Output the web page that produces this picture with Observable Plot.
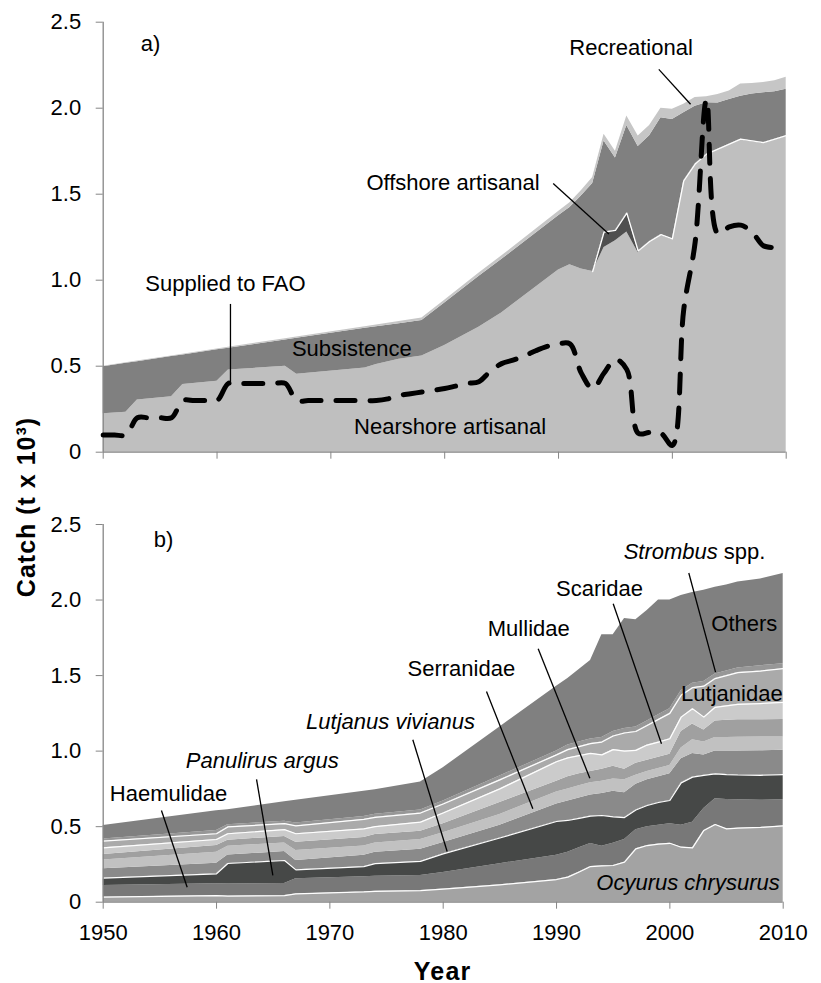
<!DOCTYPE html>
<html><head><meta charset="utf-8">
<script src="https://cdn.jsdelivr.net/npm/d3@7"></script>
<script src="https://cdn.jsdelivr.net/npm/@observablehq/plot@0.6"></script>
<style>
html,body{margin:0;padding:0;background:#fff;}
#wrap{position:relative;width:821px;height:983px;font-family:'Liberation Sans',Arial,sans-serif;color:#000;}
#pa{position:absolute;left:0;top:0;}
#pb{position:absolute;left:0;top:490px;}
.ylab{position:absolute;left:26px;top:507px;transform:translate(-50%,-50%) rotate(-90deg);font-weight:bold;font-size:25px;letter-spacing:1px;white-space:nowrap;}
.xlab{position:absolute;left:442.7px;top:970.7px;transform:translate(-50%,-50%);font-weight:bold;font-size:25px;letter-spacing:1.2px;white-space:nowrap;}
</style>
</head><body>
<div id="wrap">
  <div id="pa"></div>
  <div id="pb"></div>
  <div class="ylab">Catch (t x 10³)</div>
  <div class="xlab">Year</div>
</div>
<script>
// ---------- Panel a data ----------
const yearsA = [1950,1952,1953,1956,1957,1960,1961,1966,1967,1973,1974,1976,1978,1980,1983,1985,
  1990,1991,1992,1993,1994,1995,1996,1997,1998,1999,2000,2001,2002,2003,2004,2005,2006,2007,2008,2009,2010];
const nearshore = [.223,.232,.304,.322,.393,.412,.478,.499,.453,.49,.51,.54,.56,.62,.726,.81,
  1.06,1.09,1.065,1.05,1.19,1.23,1.28,1.16,1.22,1.26,1.235,1.573,1.67,1.728,1.757,1.786,1.815,1.805,1.795,1.815,1.835];
const offshore = [0,0,0,0,0,0,0,0,0,0,0,0,0,0,0,0,
  0,0,0,0,.09,.06,.11,.01,.005,.005,.005,.005,.005,.005,.005,.005,.005,.005,.005,.005,.005];
const subsistence = [.274,.285,.222,.234,.172,.183,.126,.154,.21,.23,.219,.207,.205,.248,.296,.31,
  .315,.332,.425,.512,.529,.42,.51,.608,.615,.68,.694,.395,.337,.298,.268,.259,.25,.273,.29,.275,.27];
const recreational = [.003,.003,.004,.004,.005,.005,.006,.007,.007,.01,.011,.013,.015,.016,.018,.02,
  .025,.028,.03,.035,.04,.04,.055,.06,.06,.055,.06,.05,.05,.035,.05,.05,.07,.06,.06,.065,.07];
const faoYears = d3.range(1950, 2010);
const faoValues = [.1,.1,.1,.2,.2,.2,.2,.3,.3,.3,
  .3,.4,.4,.4,.4,.4,.4,.3,.3,.3,
  .3,.3,.3,.3,.3,.31,.33,.34,.35,.36,
  .37,.385,.4,.41,.47,.515,.535,.56,.59,.615,
  .63,.63,.46,.37,.46,.54,.48,.11,.115,.11,
  .04,.83,1.22,2.05,1.27,1.31,1.32,1.28,1.2,1.19];
const namesA = ["Nearshore artisanal","Offshore artisanal","Subsistence","Recreational"];

// ---------- Panel b data ----------
const yearsB = [1950,1960,1961,1966,1967,1973,1974,1978,1980,1985,
  1990,1991,1992,1993,1994,1995,1996,1997,1998,1999,2000,2001,2002,2003,2004,2005,2006,2008,2010];
const ocyurus = [.033,.044,.040,.044,.055,.068,.072,.077,.087,.115,
  .150,.166,.200,.236,.240,.243,.265,.353,.375,.385,.390,.364,.360,.475,.514,.485,.490,.495,.505];
const haemulidae = [.077,.078,.080,.080,.100,.100,.100,.100,.110,.140,
  .160,.165,.160,.153,.131,.147,.150,.127,.125,.125,.129,.146,.170,.145,.170,.195,.188,.180,.173];
const panulirus = [.049,.066,.136,.152,.059,.067,.083,.093,.123,.170,
  .224,.210,.195,.181,.203,.175,.145,.130,.140,.150,.154,.280,.298,.220,.166,.165,.164,.165,.167];
const lvivianus = [.062,.070,.056,.059,.062,.075,.075,.080,.075,.085,
  .116,.129,.135,.140,.146,.170,.165,.170,.170,.170,.177,.160,.157,.135,.150,.155,.158,.162,.160];
const serranidae = [.059,.073,.058,.057,.066,.062,.062,.065,.065,.070,
  .080,.080,.080,.080,.080,.080,.085,.060,.055,.055,.055,.070,.090,.085,.090,.090,.092,.092,.088];
const mullidae = [.036,.044,.040,.043,.055,.056,.056,.055,.060,.080,
  .070,.080,.080,.075,.080,.085,.070,.080,.075,.075,.075,.110,.105,.080,.110,.115,.115,.114,.117];
const scaridae = [.044,.040,.043,.045,.056,.057,.052,.060,.070,.090,
  .130,.125,.120,.120,.095,.110,.120,.085,.100,.100,.102,.095,.100,.085,.090,.095,.103,.107,.112];
const lutjanidae = [.044,.038,.045,.040,.052,.063,.062,.060,.060,.060,
  .045,.055,.060,.065,.085,.090,.120,.125,.130,.150,.168,.145,.140,.205,.190,.200,.210,.215,.224];
const strombus = [.015,.022,.015,.016,.020,.020,.020,.020,.020,.025,
  .025,.030,.030,.030,.030,.030,.030,.030,.030,.030,.030,.030,.030,.030,.030,.030,.030,.035,.033];
const others = [.089,.130,.099,.129,.150,.167,.163,.185,.220,.325,
  .430,.440,.480,.520,.680,.640,.727,.710,.730,.760,.720,.630,.600,.605,.575,.570,.570,.575,.596];
const namesB = ["Ocyurus chrysurus","Haemulidae","Panulirus argus","Lutjanus vivianus","Serranidae",
  "Mullidae","Scaridae","Lutjanidae","Strombus spp.","Others"];

// ---------- Axis ticks ----------
const xTicks = [1950,1960,1970,1980,1990,2000,2010];
const yTicks = [0,0.5,1,1.5,2,2.5];
</script>
<script>
const yFmt = d => d === 0 ? "0" : d.toFixed(1);
function rowsFrom(years, names, arrays) {
  const rows = [];
  names.forEach((name, k) => arrays[k].forEach((v, i) => rows.push({year: years[i], series: name, value: v})));
  return rows;
}
function cumulative(years, arrays, k) {
  return years.map((year, i) => ({year, top: d3.sum(arrays.slice(0, k + 1), a => a[i])}));
}
const FONT = "'Liberation Sans', Arial, sans-serif";
const baseStyle = {fontFamily: FONT, fontSize: "22px", color: "#000", background: "transparent", overflow: "visible"};

// ---------- Panel a ----------
const arraysA = [nearshore, offshore, subsistence, recreational];
const colorsA = ["#bfbfbf", "#4f4f4f", "#808080", "#c6c6c6"];
const rowsA = rowsFrom(yearsA, namesA, arraysA);
const offTop = cumulative(yearsA, arraysA, 1).filter(d => d.year >= 1993);
const fao = faoYears.map((year, i) => ({year, value: faoValues[i]}));

const labelsA = [
  {text: "Recreational", x: 1996.37, y: 2.35},
  {text: "Offshore artisanal", x: 1980.73, y: 1.566},
  {text: "Supplied to FAO", x: 1960.74, y: 0.98},
  {text: "Subsistence", x: 1971.84, y: 0.60},
  {text: "Nearshore artisanal", x: 1980.47, y: 0.145}
];
const linksA = [
  {x1: 1998.81, y1: 2.226, x2: 2001.6, y2: 2.023},
  {x1: 1989.53, y1: 1.562, x2: 1994.42, y2: 1.268},
  {x1: 1961.18, y1: 0.862, x2: 1961.18, y2: 0.397}
];

const plotA = Plot.plot({
  width: 821, height: 470,
  marginLeft: 102.7, marginRight: 35.3, marginTop: 21.7, marginBottom: 18.3,
  style: baseStyle,
  x: {domain: [1950, 2010]},
  y: {domain: [0, 2.5]},
  color: {domain: namesA, range: colorsA},
  marks: [
    Plot.areaY(rowsA, {x: "year", y: "value", z: "series", fill: "series", order: namesA}),
    Plot.line(offTop, {x: "year", y: "top", stroke: "#fff", strokeWidth: 1.3}),
    Plot.ruleY([0], {stroke: "#868686", strokeWidth: 1.3}),
    Plot.ruleX([1950], {stroke: "#868686", strokeWidth: 1.3}),
    Plot.line(fao, {x: "year", y: "value", curve: "catmull-rom", stroke: "#000", strokeWidth: 5,
      strokeDasharray: "19,15", strokeLinecap: "round", strokeLinejoin: "round"}),
    Plot.link(linksA, {x1: "x1", y1: "y1", x2: "x2", y2: "y2", stroke: "#000", strokeWidth: 1.3}),
    Plot.text(labelsA, {x: "x", y: "y", text: "text", fill: "#000"}),
    Plot.text(["a)"], {x: 1953.3, y: 2.373, text: d => d, textAnchor: "start", fill: "#000"}),
    Plot.axisY({ticks: yTicks, tickFormat: yFmt, tickSize: 7, tickPadding: 15, stroke: "#868686", label: null}),
    Plot.axisX({ticks: xTicks, tickFormat: () => "", tickSize: 7, stroke: "#868686", label: null})
  ]
});
document.getElementById("pa").appendChild(plotA);

// ---------- Panel b ----------
const arraysB = [ocyurus, haemulidae, panulirus, lvivianus, serranidae, mullidae, scaridae, lutjanidae, strombus, others];
const colorsB = ["#a3a3a3", "#787878", "#464847", "#8a8a8a", "#c1c1c1", "#a0a0a0", "#cbcbcb", "#aaaaaa", "#979797", "#808080"];
const rowsB = rowsFrom(yearsB, namesB, arraysB);
const whiteB = [0, 2, 6, 7].flatMap(k => cumulative(yearsB, arraysB, k).map(d => ({...d, layer: k})));

const labelsB = [
  {text: "Scaridae", x: 1993.79, y: 2.075},
  {text: "Mullidae", x: 1987.55, y: 1.811},
  {text: "Serranidae", x: 1981.6, y: 1.546},
  {text: "Haemulidae", x: 1955.76, y: 0.718},
  {text: "Others", x: 2006.57, y: 1.839},
  {text: "Lutjanidae", x: 2005.47, y: 1.38}
];
const italicB = [
  {text: "Lutjanus vivianus", x: 1975.35, y: 1.192},
  {text: "Panulirus argus", x: 1964.03, y: 0.938},
  {text: "Ocyurus chrysurus", x: 2001.6, y: 0.128}
];
const linksB = [
  {x1: 2001.67, y1: 2.179, x2: 2004.03, y2: 1.523},
  {x1: 1995.0, y1: 1.976, x2: 1999.26, y2: 1.049},
  {x1: 1988.38, y1: 1.678, x2: 1992.94, y2: 0.821},
  {x1: 1983.82, y1: 1.395, x2: 1987.91, y2: 0.619},
  {x1: 1977.32, y1: 1.075, x2: 1980.35, y2: 0.336},
  {x1: 1963.53, y1: 0.813, x2: 1964.97, y2: 0.177},
  {x1: 1955.14, y1: 0.607, x2: 1957.41, y2: 0.099}
];

const plotB = Plot.plot({
  width: 821, height: 493,
  marginLeft: 102.7, marginRight: 38.3, marginTop: 34, marginBottom: 81.3,
  style: baseStyle,
  x: {domain: [1950, 2010]},
  y: {domain: [0, 2.5]},
  color: {domain: namesB, range: colorsB},
  marks: [
    Plot.areaY(rowsB, {x: "year", y: "value", z: "series", fill: "series", order: namesB}),
    Plot.line(whiteB, {x: "year", y: "top", z: "layer", stroke: "#fff", strokeWidth: 1.2}),
    Plot.ruleY([0], {stroke: "#868686", strokeWidth: 1.3}),
    Plot.ruleX([1950], {stroke: "#868686", strokeWidth: 1.3}),
    Plot.link(linksB, {x1: "x1", y1: "y1", x2: "x2", y2: "y2", stroke: "#000", strokeWidth: 1.3}),
    Plot.text(labelsB, {x: "x", y: "y", text: "text", fill: "#000"}),
    Plot.text(italicB, {x: "x", y: "y", text: "text", fill: "#000", fontStyle: "italic"}),
    Plot.text(["Strombus"], {x: 2004.23, y: 2.318, text: d => d, textAnchor: "end", fontStyle: "italic", fill: "#000"}),
    Plot.text(["spp."], {x: 2004.23, y: 2.318, text: d => d, textAnchor: "start", dx: 6, fill: "#000"}),
    Plot.text(["b)"], {x: 1954.46, y: 2.395, text: d => d, textAnchor: "start", fill: "#000"}),
    Plot.axisY({ticks: yTicks, tickFormat: yFmt, tickSize: 7, tickPadding: 15, stroke: "#868686", label: null}),
    Plot.axisX({ticks: xTicks, tickFormat: d => String(d), tickSize: 7, tickPadding: 15, stroke: "#868686", label: null})
  ]
});
document.getElementById("pb").appendChild(plotB);
</script>
</body></html>
